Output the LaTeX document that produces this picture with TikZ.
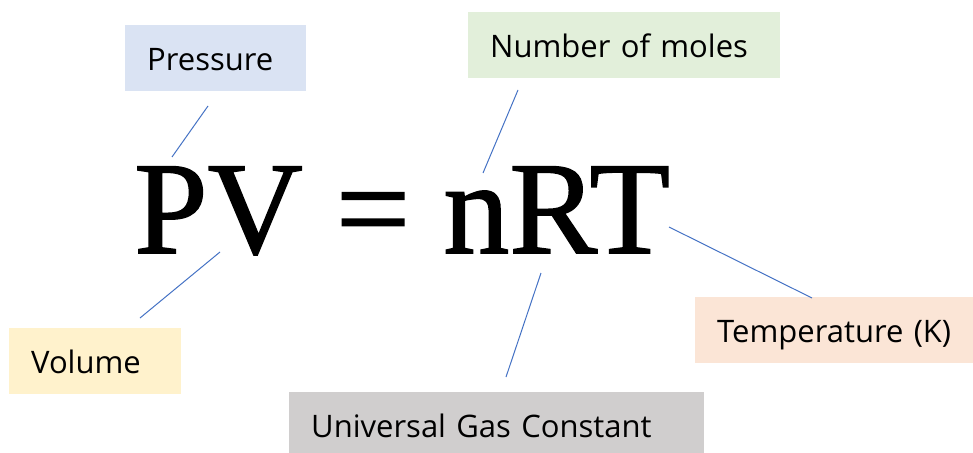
\documentclass[tikz,border=0pt]{standalone}
\usepackage{fontspec}
\setmainfont{Open Sans}
\newfontfamily\eqfont[FakeBold=1.2]{Liberation Serif}
\definecolor{pressurefill}{HTML}{DAE3F3}
\definecolor{molesfill}{HTML}{E2EFDA}
\definecolor{volumefill}{HTML}{FFF2CC}
\definecolor{gasfill}{HTML}{D0CECE}
\definecolor{tempfill}{HTML}{FBE5D6}
\definecolor{leadblue}{HTML}{4472C4}
\begin{document}
\begin{tikzpicture}[x=1pt,y=-1pt,
    tag/.style={fill=#1, anchor=north west, inner xsep=22pt, inner ysep=0pt,
      minimum height=66pt, text height=31pt, text depth=6pt,
      align=left, font=\fontsize{31}{36}\selectfont},
    lead/.style={draw=leadblue, line width=1pt}]
  % Frame
  \useasboundingbox (0,0) rectangle (973,452);
  % Equation
  \node[font=\eqfont\fontsize{132}{140}\selectfont, anchor=base west, inner sep=0pt]
    (eq) at (134,253) {PV = nRT};
  % Label boxes
  \node[tag=pressurefill, text width=137pt] (pressure) at (125,25) {Pressure};
  \node[tag=molesfill, text width=268pt] (moles) at (468,12) {Number of moles};
  \node[tag=volumefill, text width=128pt] (volume) at (9,328) {Volume};
  \node[tag=gasfill, text width=371pt] (gas) at (289,392) {Universal Gas Constant};
  \node[tag=tempfill, text width=256pt] (temp) at (695,297) {Temperature (K)};
  % Leader ends
  \coordinate (p-a) at (208,106); \coordinate (p-b) at (172,157);
  \coordinate (n-a) at (518,90);  \coordinate (n-b) at (483,173);
  \coordinate (v-a) at (220,252); \coordinate (v-b) at (140,318);
  \coordinate (r-a) at (541,273); \coordinate (r-b) at (506,377);
  \coordinate (t-a) at (669,227); \coordinate (t-b) at (812,298);
  % Leaders
  \foreach \a/\b in {p-a/p-b, n-a/n-b, v-a/v-b, r-a/r-b, t-a/t-b} {
    \draw[lead] (\a) -- (\b);
  }
\end{tikzpicture}
\end{document}
